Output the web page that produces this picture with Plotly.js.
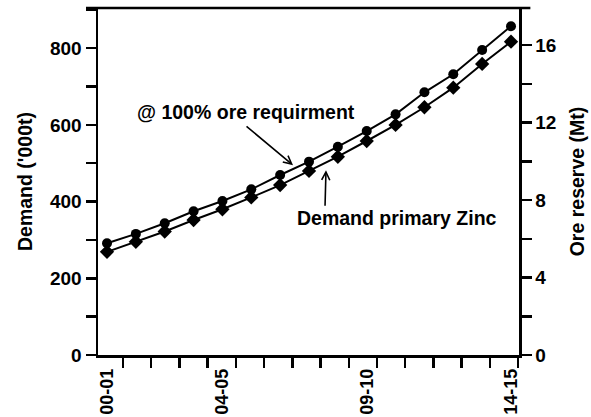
<!DOCTYPE html>
<html>
<head>
<meta charset="utf-8">
<script src="https://cdn.plot.ly/plotly-3.0.1.min.js"></script>
<style>html,body{margin:0;padding:0;background:#fff;}#chart{width:591px;height:417px;}</style>
</head>
<body>
<div id="chart"></div>
<script>
// Financial years (categories)
const categories = ['00-01','01-02','02-03','03-04','04-05','05-06','06-07','07-08','08-09','09-10','10-11','11-12','12-13','13-14','14-15'];
// Ore reserve @ 100% ore requirement (Mt, right axis) - circles
const oreReserve = [5.77, 6.25, 6.80, 7.42, 7.95, 8.55, 9.29, 9.98, 10.75, 11.56, 12.42, 13.56, 14.49, 15.74, 16.97];
// Demand primary Zinc ('000t, left axis) - diamonds
const demandZinc = [269, 295, 322, 352, 380, 411, 443, 480, 517, 558, 600, 646, 697, 759, 817];
// Shown category tick labels
const shownLabels = ['00-01','04-05','09-10','14-15'];
const leftTicks = [0, 200, 400, 600, 800];
const rightTicks = [0, 4, 8, 12, 16];

const xIdx = categories.map((c, i) => i);
const labelIdx = shownLabels.map(l => categories.indexOf(l));

const FONT = {family: 'Liberation Sans, Arial, sans-serif', size: 19.5, color: '#000', weight: 'bold'};
const TICKFONT = {family: 'Liberation Sans, Arial, sans-serif', size: 19, color: '#000', weight: 'bold'};
const XTICKFONT = {family: 'Liberation Sans, Arial, sans-serif', size: 18, color: '#000', weight: 'bold'};

const traces = [
  {
    x: xIdx, y: demandZinc, yaxis: 'y', type: 'scatter', mode: 'lines+markers',
    line: {color: '#000', width: 2},
    marker: {symbol: 'diamond', size: 11, color: '#000'},
    showlegend: false, hoverinfo: 'skip'
  },
  {
    x: xIdx, y: oreReserve, yaxis: 'y2', type: 'scatter', mode: 'lines+markers',
    line: {color: '#000', width: 2},
    marker: {symbol: 'circle', size: 10, color: '#000'},
    showlegend: false, hoverinfo: 'skip'
  }
];

const layout = {
  width: 591, height: 417,
  margin: {l: 98, r: 72, t: 8, b: 62},
  paper_bgcolor: '#fff', plot_bgcolor: '#fff',
  font: FONT,
  xaxis: {
    type: 'linear', range: [-0.312, 14.277],
    tickmode: 'array', tickvals: labelIdx, ticktext: shownLabels,
    tickangle: -90, ticks: 'outside', ticklen: 4, tickcolor: 'rgba(0,0,0,0)',
    showline: true, linecolor: '#000', linewidth: 2.5,
    showgrid: false, zeroline: false, tickfont: XTICKFONT,
    minor: {tick0: 0.554, dtick: 0.978, ticks: 'outside', ticklen: 10, tickwidth: 2.5, tickcolor: '#000', showgrid: false}
  },
  yaxis: {
    range: [0, 904.8], tickmode: 'array', tickvals: leftTicks,
    ticks: 'outside', ticklen: 10, tickwidth: 2.5, tickcolor: '#000',
    showline: true, linecolor: '#000', linewidth: 2.5,
    showgrid: false, zeroline: false, tickfont: TICKFONT,
    minor: {dtick: 100, tick0: 0, ticks: 'outside', ticklen: 10, tickwidth: 2.5, tickcolor: '#000', showgrid: false},
    title: {text: "Demand ('000t)", font: FONT, standoff: 12}
  },
  yaxis2: {
    overlaying: 'y', side: 'right', anchor: 'x',
    range: [0, 17.91], tickmode: 'array', tickvals: rightTicks,
    ticks: 'outside', ticklen: 10, tickwidth: 2.5, tickcolor: '#000',
    showline: true, linecolor: '#000', linewidth: 2.5,
    showgrid: false, zeroline: false, tickfont: TICKFONT,
    minor: {dtick: 2, tick0: 0, ticks: 'outside', ticklen: 10, tickwidth: 2.5, tickcolor: '#000', showgrid: false},
    title: {text: 'Ore reserve (Mt)', font: FONT, standoff: 15}
  },
  shapes: [
    {type: 'line', xref: 'paper', yref: 'paper', x0: -0.0285, x1: 1.027, y0: 1, y1: 1,
     line: {color: '#000', width: 2.5}}
  ],
  annotations: [
    {text: '@ 100% ore requirment', xref: 'x', yref: 'y', x: 0.97, y: 633, xanchor: 'left', yanchor: 'middle', showarrow: false, font: FONT},
    {text: 'Demand primary Zinc', xref: 'x', yref: 'y', x: 6.5, y: 358, xanchor: 'left', yanchor: 'middle', showarrow: false, font: FONT},
    {text: '', xref: 'x', yref: 'y', x: 6.446, y: 495, ax: -48, ay: -40, showarrow: true, arrowhead: 5, arrowwidth: 1.6, arrowsize: 1, arrowcolor: '#000'},
    {text: '', xref: 'x', yref: 'y', x: 7.589, y: 482, ax: -1, ay: 37, showarrow: true, arrowhead: 5, arrowwidth: 1.6, arrowsize: 1, arrowcolor: '#000'}
  ]
};

Plotly.newPlot('chart', traces, layout, {staticPlot: true, displayModeBar: false});
</script>
</body>
</html>
